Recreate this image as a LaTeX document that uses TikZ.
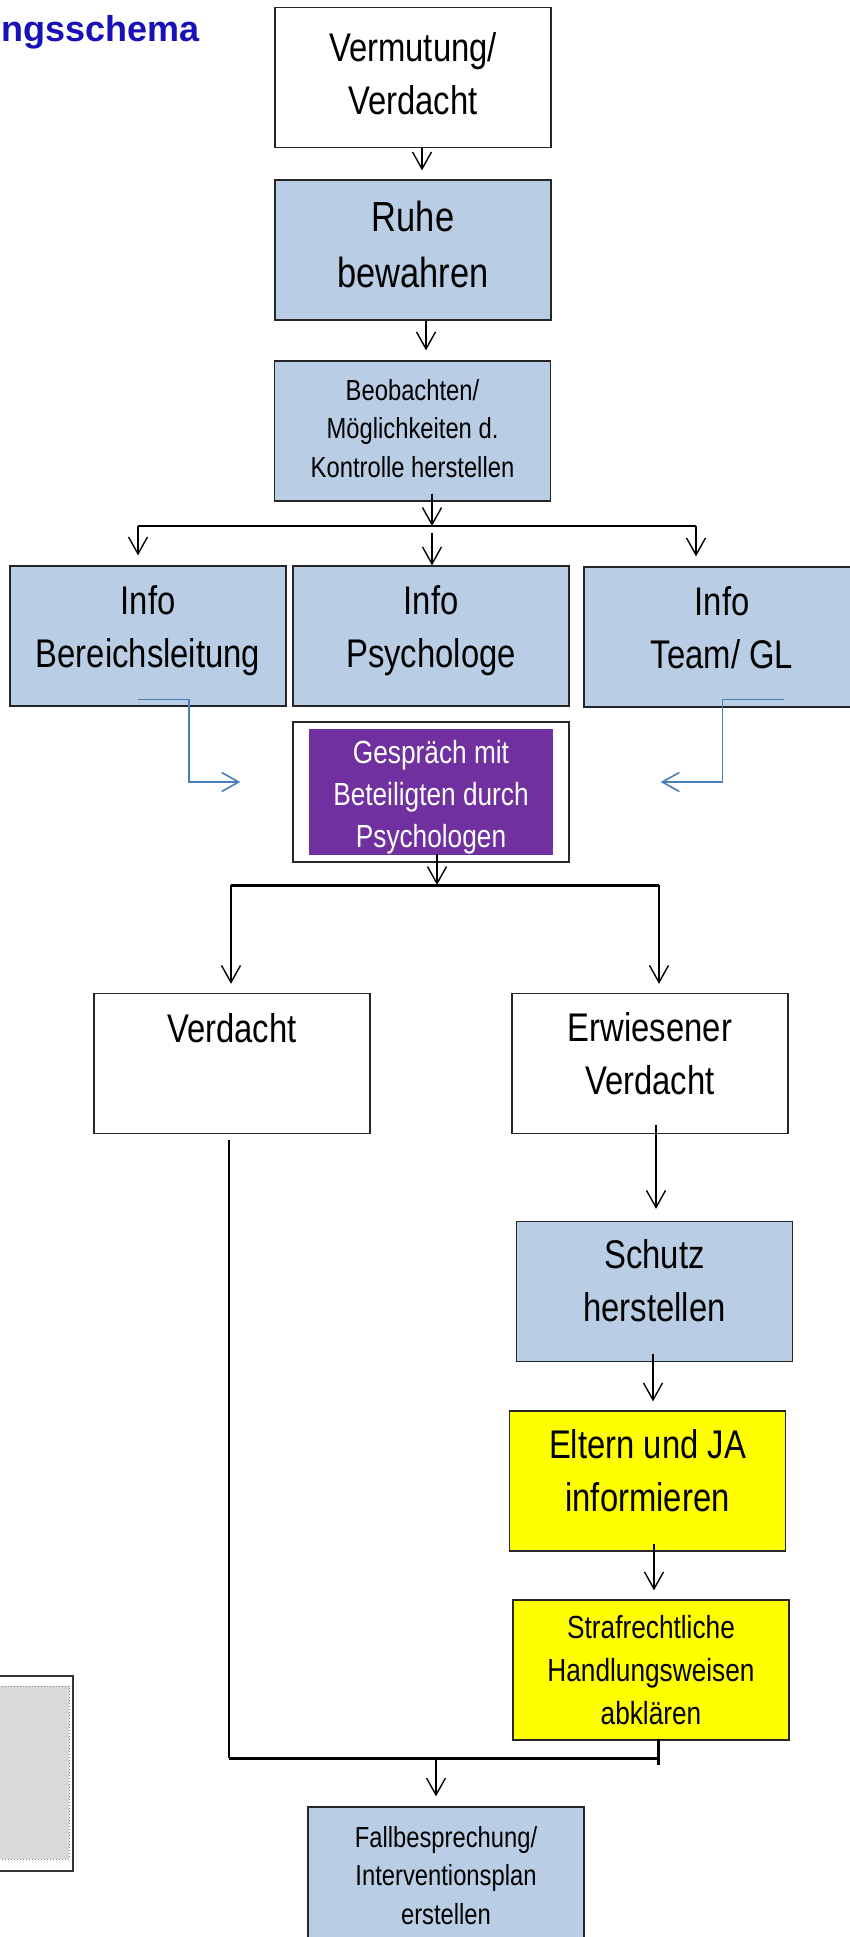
\documentclass[tikz,border=0pt]{standalone}
\usepackage{fontspec}
\setmainfont{Liberation Sans}[FakeStretch=0.82]
\newfontfamily\titlefont{Liberation Sans}
\usetikzlibrary{arrows.meta}
\usetikzlibrary{calc}
\definecolor{boxblue}{HTML}{B9CDE5}
\definecolor{boxyellow}{RGB}{255,255,0}
\definecolor{talkpurple}{HTML}{7030A0}
\definecolor{lineblue}{HTML}{4A7EBB}
\definecolor{titleblue}{RGB}{24,16,184}
\definecolor{graybox}{HTML}{D9D9D9}
% struts to set the first and the last baseline in a box
\newcommand\topst[1]{\rule{0pt}{#1pt}}
\newcommand\botst[1]{\rule[-#1pt]{0pt}{#1pt}}

\begin{document}
\begin{tikzpicture}[x=1pt,y=-1pt,
  box/.style={draw=black!85,line width=1.3pt,fill=white,minimum width=276pt,
    minimum height=140pt,inner sep=0pt,align=center,font=\fontsize{40}{53}\selectfont},
  bluebox/.style={box,fill=boxblue},
  yellowbox/.style={box,fill=boxyellow},
  smalltext/.style={font=\fontsize{29}{38.5}\selectfont},
  midtext/.style={font=\fontsize{32}{43}\selectfont},
  arr/.style={-{Straight Barb[length=17pt,width=19pt]},line width=1.4pt},
  bluearr/.style={arr,draw=lineblue,line width=1.6pt},
  joinline/.style={line width=3pt}]
\useasboundingbox (0,0) rectangle (850,1937);
\node[anchor=base west,text=titleblue,font=\titlefont\bfseries\fontsize{36}{40}\selectfont] (title) at (-2,42) {ngsschema};
% main column
\node[box] (verm) at (413,77.5) {\topst{32}Vermutung/\\Verdacht\botst{11}};
\node[bluebox,font=\fontsize{42}{56}\selectfont] (ruhe) at (413,250) {\topst{34}Ruhe\\bewahren\botst{16}};
\node[bluebox,smalltext] (beob) at (412.5,431) {\topst{24}Beobachten/\\Möglichkeiten d.\\Kontrolle herstellen\botst{9}};
% info row
\node[bluebox] (ibl) at (148,636) {\topst{32}Info\\Bereichsleitung\botst{23}};
\node[bluebox] (ipsy) at (431,636) {\topst{32}Info\\Psychologe\botst{23}};
\node[bluebox] (iteam) at (722,637) {\topst{32}Info\\Team/ GL\botst{23}};
% talk with the psychologist
\node[box] (gesp) at (431,792) {};
\node[fill=talkpurple,text=white,minimum width=244pt,minimum height=120pt,inner sep=0pt,
  align=center,font=\fontsize{32}{42}\selectfont] (gesptxt) at (431,792) {\topst{34}Gespräch mit\\Beteiligten durch\\Psychologen\botst{8}};
% two branches
\node[box] (verd) at (232,1063.5) {\topst{32}Verdacht\botst{75}};
\node[box] (erw) at (650,1063.5) {\topst{32}Erwiesener\\Verdacht\botst{24}};
\node[bluebox] (schutz) at (654.5,1291.5) {\topst{32}Schutz\\herstellen\botst{26}};
\node[yellowbox] (eltern) at (647.5,1481) {\topst{32}Eltern und JA\\informieren\botst{24}};
\node[yellowbox,midtext] (straf) at (651,1670) {\topst{30}Strafrechtliche\\Handlungsweisen\\abklären\botst{8}};
\node[bluebox,smalltext] (fall) at (446,1877) {\topst{24}Fallbesprechung/\\Interventionsplan\\erstellen\botst{7}};
% gray box bottom left
\draw[draw=black!80,line width=1.5pt,fill=white] (-20,1676) rectangle (73,1871);
\draw[draw=gray,dotted,line width=1pt,fill=graybox] (-20,1686) rectangle (69,1859);

% arrows top
\draw[arr] ($(verm.south)+(9,0)$) -- ($(ruhe.north)+(9,-9)$);
\draw[arr] ($(ruhe.south)+(13,0)$) -- ($(beob.north)+(13.5,-10)$);
\coordinate (fork1) at (432,526);
\coordinate (fork1l) at (138,526);
\coordinate (fork1r) at (696,526);
\coordinate (fork1m) at (432,533);
\draw[arr] ($(beob.south)+(19.5,-8)$) -- (fork1);
\draw[line width=2.2pt] (fork1l) -- (fork1r);
\draw[arr,shorten >=10pt] (fork1l) -- (fork1l |- ibl.north);
\draw[arr,shorten >=10pt] (fork1r) -- (fork1r |- iteam.north);
\draw[arr] (fork1m) -- (fork1m |- ipsy.north);
% blue ones
\coordinate (bl1) at ($(ibl.south)+(-10,-7)$);
\coordinate (bl2) at ($(gesp.west)+(-52,-10)$);
\coordinate (br1) at ($(iteam.south)+(62,-8)$);
\coordinate (br2) at ($(gesp.east)+(91,-10)$);
\draw[bluearr] (bl1) -| ($(bl1)!.5!(bl2)$) |- (bl2);
\draw[bluearr] (br1) -| ($(br1)!.5!(br2)$) |- (br2);
% split after the talk
\coordinate (fork2) at (437,885);
\coordinate (fork2l) at (231,885);
\coordinate (fork2r) at (659,885);
\draw[arr] ($(gesp.south)+(6,-9)$) -- (fork2);
\draw[joinline] (fork2l) -- (fork2r);
\draw[arr,shorten >=9pt] (fork2l) -- (fork2l |- verd.north);
\draw[arr,shorten >=9pt] (fork2r) -- (fork2r |- erw.north);
% right chain
\draw[arr] ($(erw.south)+(6,-9)$) -- ($(schutz.north)+(1.5,-12)$);
\draw[arr] ($(schutz.south)+(-1.5,-8)$) -- ($(eltern.north)+(5.5,-9)$);
\draw[arr] ($(eltern.south)+(6.5,-8)$) -- ($(straf.north)+(3,-9)$);
% joining at the bottom
\coordinate (fork3l) at (229,1758);
\coordinate (fork3r) at (658,1758);
\coordinate (fork3m) at (436,1758);
\draw[line width=2pt] ($(verd.south)+(-3,6)$) -- (fork3l);
\draw[joinline] (fork3l) -- (fork3r);
\draw[joinline] ($(straf.south)+(7,-2)$) -- ($(straf.south)+(7,24)$);
\draw[arr,shorten >=10pt] (fork3m) -- (fork3m |- fall.north);
\end{tikzpicture}
\end{document}
